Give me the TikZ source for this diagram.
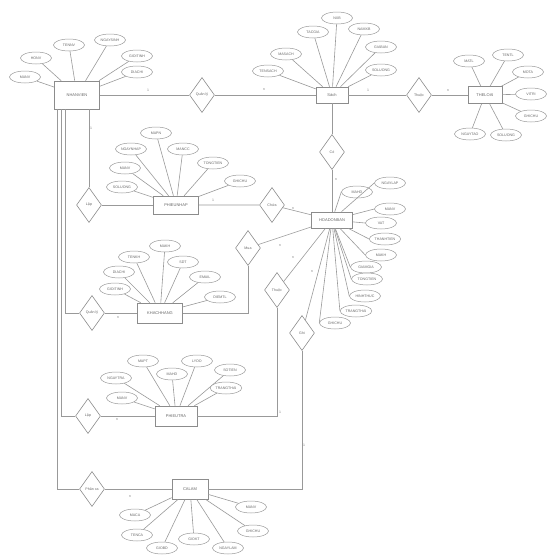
\documentclass[tikz,border=0pt]{standalone}
\usepackage{fontspec}
\setmainfont{Liberation Sans}
\usetikzlibrary{shapes.geometric,positioning,calc}

\begin{document}
\begin{tikzpicture}[x=1pt, y=-1pt,
		line/.style={draw=black!40, line width=0.6pt},
		entity/.style={
			rectangle, draw=black!45, line width=0.6pt, fill=white,
			minimum width=40pt, minimum height=18pt, inner sep=1pt,
			font=\fontsize{4}{5}\selectfont, text=black!60
		},
		attr/.style={
			ellipse, draw=black!40, line width=0.5pt, fill=white,
			minimum width=31pt, minimum height=12pt, inner sep=0.8pt,
			font=\fontsize{3.6}{4}\selectfont, text=black!60
		},
		rel/.style={
			diamond, draw=black!45, line width=0.6pt, fill=white,
			minimum width=25pt, minimum height=35pt, inner sep=0pt,
			font=\fontsize{3.6}{4}\selectfont, text=black!60
		},
		card/.style={font=\fontsize{3.5}{4}\selectfont, text=black!50, inner sep=0pt},
		]
		\useasboundingbox (0,0) rectangle (548,555);
		
		%entities
		\node[entity, minimum width=45pt, minimum height=28pt] (nv) at (77,95) {NHANVIEN};
		\node[entity, minimum width=32pt, minimum height=16pt] (sach) at (332,95) {Sách};
		\node[entity, minimum width=34pt, minimum height=17pt] (tl) at (485,95) {THELOAI};
		\node[entity, minimum width=45pt] (pn) at (176,205) {PHIEUNHAP};
		\node[entity, minimum width=41pt, minimum height=16pt] (hd) at (332,220) {HOADONBAN};
		\node[entity, minimum width=45pt, minimum height=20pt] (kh) at (160,313) {KHACHHANG};
		\node[entity, minimum width=42pt, minimum height=20pt] (pt) at (176,416) {PHIEUTRA};
		\node[entity, minimum width=36pt, minimum height=20pt] (ca) at (190,489) {CALAM};
		
		%relationships
		\node[rel] (r1) at (202,95) {Quản lý};
		\node[rel] (r2) at (419,95) {Thuộc};
		\node[rel] (r3) at (332,152) {Có};
		\node[rel] (r4) at (89,205) {Lập};
		\node[rel] (r5) at (272,205) {Chứa};
		\node[rel] (r6) at (248,248) {Mua};
		\node[rel] (r7) at (92,313) {Quản lý};
		\node[rel] (r8) at (277,290) {Thuộc};
		\node[rel] (r9) at (302,333) {Ghi};
		\node[rel] (r10) at (88,416) {Lập};
		\node[rel] (r11) at (92,489) {Phân ca};
		
		%connectors
		\draw[line] (nv) -- (r1) -- (sach);
		\draw[line] (sach) -- (r2) -- (tl);
		\draw[line] (sach) -- (r3) -- (hd);
		\draw[line] (nv.south -| r4.north) -- (r4.north);
		\draw[line] (r4) -- (pn);
		\draw[line] (pn) -- (r5) -- (hd);
		\draw[line] ([xshift=11pt]nv.south west) |- (r7.west);
		\draw[line] (r7) -- (kh);
		\draw[line] (kh.east) -| (r6.south);
		\draw[line] (r6) -- (hd);
		\draw[line] ([xshift=7pt]nv.south west) |- (r10.west);
		\draw[line] (r10) -- (pt);
		\draw[line] (pt.east) -| (r8.south);
		\draw[line] (r8) -- (hd);
		\draw[line] ([xshift=3pt]nv.south west) |- (r11.west);
		\draw[line] (r11) -- (ca);
		\draw[line] (ca.east) -| (r9.south);
		\draw[line] (r9) -- (hd);
		
		%attributes
		\foreach \x/\y/\t [count=\i] in {25/77/MANV, 36/58/HONV, 69/45/TENNV, 110/40/NGAYSINH, 137/56/GIOITINH, 137/72/DIACHI}
		{\node[attr] (nv-a\i) at (\x,\y) {\t}; \draw[line] (nv-a\i) -- (nv);}
		
		\foreach \x/\y/\t [count=\i] in {286/54/MASACH, 268/71/TENSACH, 313/32/TACGIA, 337/18/NXB, 364/29/NAMXB, 381/47/GIABAN, 381/70/SOLUONG}
		{\node[attr] (sach-a\i) at (\x,\y) {\t}; \draw[line] (sach-a\i) -- (sach);}
		
		\foreach \x/\y/\t [count=\i] in {469/61/MATL, 508/55/TENTL, 528/72/MOTA, 531/94/VITRI, 531/116/GHICHU, 470/134/NGAYTAO, 506/135/SOLUONG}
		{\node[attr] (tl-a\i) at (\x,\y) {\t}; \draw[line] (tl-a\i) -- (tl);}
		
		\foreach \x/\y/\t [count=\i] in {156/133/MAPN, 131/149/NGAYNHAP, 183/149/MANCC, 125/168/MANV, 213/163/TONGTIEN, 122/187/SOLUONG, 240/181/GHICHU}
		{\node[attr] (pn-a\i) at (\x,\y) {\t}; \draw[line] (pn-a\i) -- (pn);}
		
		\foreach \x/\y/\t [count=\i] in {357/192/MAHD, 390/183/NGAYLAP, 390/209/MANV, 381/223/VAT, 385/239/THANHTIEN, 381/255/MAKH, 366/267/GIAMGIA, 367/279/TONGTIEN, 365/296/HINHTHUC, 356/311/TRANGTHAI, 335/323/GHICHU}
		{\node[attr] (hd-a\i) at (\x,\y) {\t}; \draw[line] (hd) -- (hd-a\i.west);}
		
		\foreach \x/\y/\t [count=\i] in {165/246/MAKH, 134/257/TENKH, 183/262/SDT, 119/272/DIACHI, 205/277/EMAIL, 115/289/GIOITINH, 220/297/DIEMTL}
		{\node[attr] (kh-a\i) at (\x,\y) {\t}; \draw[line] (kh-a\i) -- (kh);}
		
		\foreach \x/\y/\t [count=\i] in {143/361/MAPT, 116/378/NGAYTRA, 172/374/MAHD, 197/361/LYDO, 230/370/SOTIEN, 122/398/MANV, 226/388/TRANGTHAI}
		{\node[attr] (pt-a\i) at (\x,\y) {\t}; \draw[line] (pt-a\i) -- (pt);}
		
		\foreach \x/\y/\t [count=\i] in {135/515/MACA, 137/535/TENCA, 162/548/GIOBD, 194/539/GIOKT, 228/548/NGAYLAM, 251/507/MANV, 253/531/GHICHU}
		{\node[attr] (ca-a\i) at (\x,\y) {\t}; \draw[line] (ca-a\i) -- (ca);}
		
		%cardinalities
		\node[card] (c1) at (148,90) {1};
		\node[card] (c2) at (264,90) {n};
		\node[card] (c3) at (368,90) {1};
		\node[card] (c4) at (448,91) {n};
		\node[card] (c5) at (336,180) {n};
		\node[card] (c6) at (91,128) {1};
		\node[card] (c7) at (213,200) {1};
		\node[card] (c8) at (293,209) {n};
		\node[card] (c9) at (280,246) {n};
		\node[card] (c10) at (118,318) {n};
		\node[card] (c11) at (293,258) {n};
		\node[card] (c12) at (312,272) {n};
		\node[card] (c13) at (117,420) {n};
		\node[card] (c14) at (280,412) {1};
		\node[card] (c15) at (130,497) {n};
		\node[card] (c16) at (304,445) {1};
\end{tikzpicture}
\end{document}
